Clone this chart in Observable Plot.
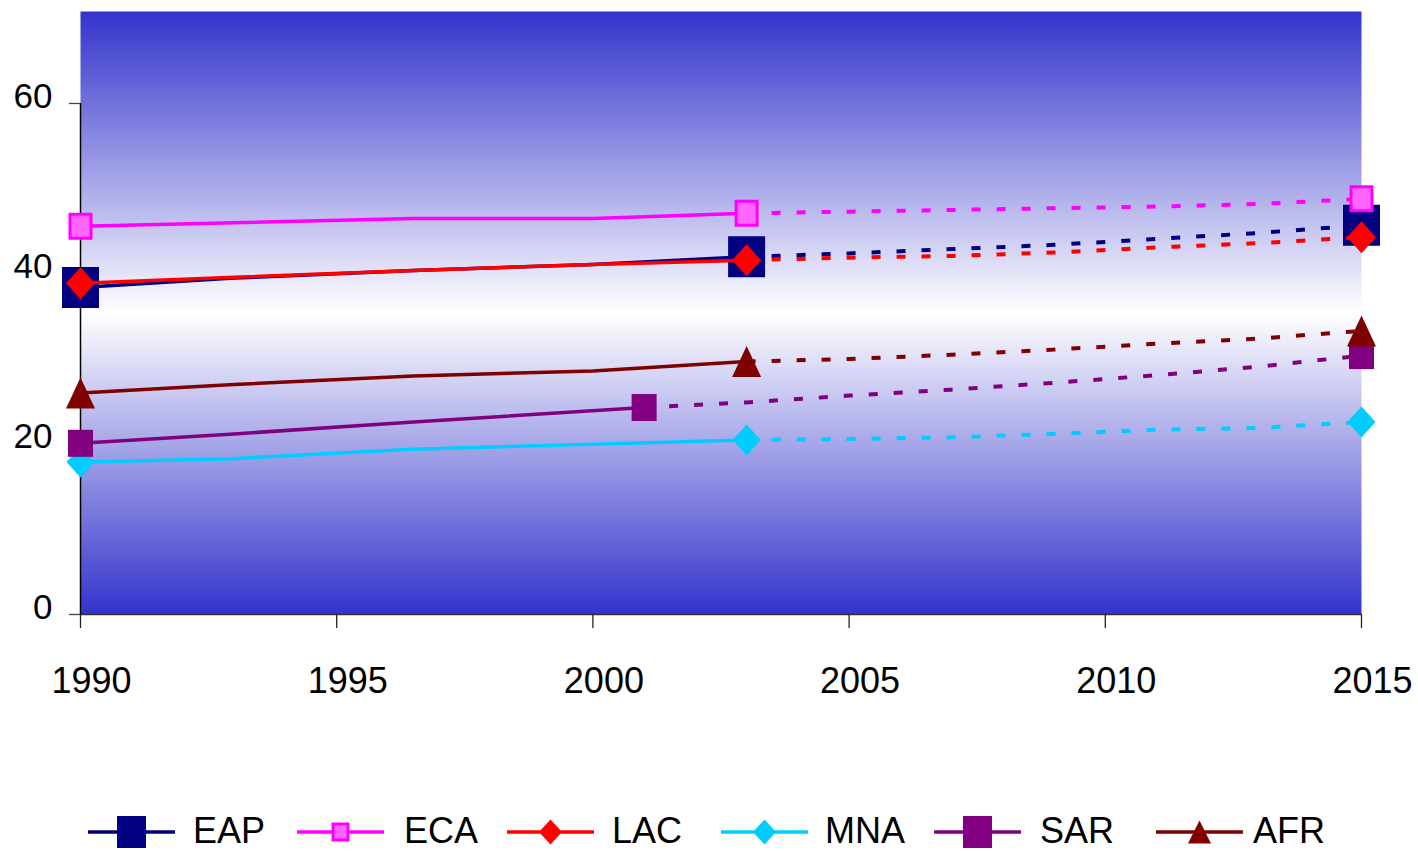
<!DOCTYPE html>
<html><head><meta charset="utf-8">
<script src="https://cdn.jsdelivr.net/npm/d3@7"></script>
<script src="https://cdn.jsdelivr.net/npm/@observablehq/plot@0.6"></script>
<style>
html,body{margin:0;padding:0;background:#fff;overflow:hidden}
#chart{width:1418px;height:851px;font-family:"Liberation Sans",Arial,sans-serif}
#chart svg{display:block}
</style></head><body><div id="chart"></div>
<script>
// ---- data ----
const series = ["EAP", "ECA", "LAC", "MNA", "SAR", "AFR"];
const lineColors = ["#000080", "#FF00FF", "#FF0000", "#00CCFF", "#800080", "#800000"];
const markerFills = ["#000080", "#FF66FF", "#FF0000", "#00CCFF", "#800080", "#800000"];

const histYears = [1990, 1993, 1996.5, 2000, 2003];
const histEAP = [38.4, 39.5, 40.4, 41.1, 42.0];
const histECA = [45.6, 46.0, 46.5, 46.5, 47.1];
const histLAC = [38.9, 39.6, 40.4, 41.1, 41.6];
const histMNA = [17.9, 18.3, 19.4, 20.0, 20.5];
const histAFR = [26.0, 27.0, 28.0, 28.6, 29.7];
const sarHistYears = [1990, 1993, 1996.5, 2001];
const histSAR = [20.1, 21.2, 22.6, 24.3];

const projYears = [2003, 2005, 2007, 2009, 2011, 2013, 2015];
const projEAP = [42.0, 42.4, 42.9, 43.4, 44.1, 44.8, 45.7];
const projECA = [47.1, 47.3, 47.5, 47.7, 47.9, 48.2, 48.8];
const projLAC = [41.6, 41.9, 42.1, 42.5, 43.1, 43.6, 44.3];
const projMNA = [20.5, 20.6, 20.8, 21.2, 21.7, 21.9, 22.6];
const projAFR = [29.7, 30.0, 30.5, 31.1, 31.8, 32.4, 33.3];
const sarProjYears = [2001, 2003, 2005, 2007, 2009, 2011, 2013, 2015];
const projSAR = [24.3, 24.9, 25.7, 26.4, 27.2, 28.1, 29.1, 30.4];

const xTicks = [1990, 1995, 2000, 2005, 2010, 2015];
const yTicks = [0, 20, 40, 60];
const yMax = 70.8;

// ---- tables built from the arrays ----
const hist = {
  EAP: [histYears, histEAP], ECA: [histYears, histECA], LAC: [histYears, histLAC],
  MNA: [histYears, histMNA], SAR: [sarHistYears, histSAR], AFR: [histYears, histAFR]
};
const proj = {
  EAP: [projYears, projEAP], ECA: [projYears, projECA], LAC: [projYears, projLAC],
  MNA: [projYears, projMNA], SAR: [sarProjYears, projSAR], AFR: [projYears, projAFR]
};
const toRows = ([xs, ys]) => xs.map((x, i) => ({x, y: ys[i]}));

// ---- marker symbols (w x h boxes) ----
const rectSym = (w, h) => ({draw(c) { c.moveTo(-w/2, -h/2); c.lineTo(w/2, -h/2); c.lineTo(w/2, h/2); c.lineTo(-w/2, h/2); c.closePath(); }});
const diamondSym = (w, h) => ({draw(c) { c.moveTo(0, -h/2); c.lineTo(w/2, 0); c.lineTo(0, h/2); c.lineTo(-w/2, 0); c.closePath(); }});
const triSym = (w, h) => ({draw(c) { c.moveTo(0, -h/2); c.lineTo(w/2, h/2); c.lineTo(-w/2, h/2); c.closePath(); }});

const chartMarkers = {
  EAP: {sym: rectSym(37, 41), sw: 0},
  ECA: {sym: rectSym(21, 24), sw: 3},
  LAC: {sym: diamondSym(29, 32), sw: 0},
  MNA: {sym: diamondSym(28, 31), sw: 0},
  SAR: {sym: rectSym(25, 27), sw: 0},
  AFR: {sym: triSym(29, 31), sw: 0}
};
const legendMarkers = {
  EAP: {sym: rectSym(29, 32), sw: 0},
  ECA: {sym: rectSym(15, 16), sw: 3},
  LAC: {sym: diamondSym(23, 25), sw: 0},
  MNA: {sym: diamondSym(23, 25), sw: 0},
  SAR: {sym: rectSym(29, 32), sw: 0},
  AFR: {sym: triSym(23, 23), sw: 0}
};

const seriesMarks = series.flatMap((s, i) => {
  const h = toRows(hist[s]);
  const p = toRows(proj[s]);
  const pts = [h[0], h[h.length - 1], p[p.length - 1]];
  const m = chartMarkers[s];
  return [
    Plot.line(h, {x: "x", y: "y", stroke: lineColors[i], strokeWidth: 3.5, strokeLinejoin: "round", strokeLinecap: "butt"}),
    Plot.line(p, {x: "x", y: "y", stroke: lineColors[i], strokeWidth: 4, strokeDasharray: "9,16", strokeLinecap: "butt"}),
    Plot.dot(pts, {x: "x", y: "y", symbol: m.sym, r: 10, fill: markerFills[i],
      stroke: m.sw ? lineColors[i] : "none", strokeWidth: m.sw})
  ];
});

const W = 1418, H = 790;
const chart = Plot.plot({
  width: W, height: H,
  marginLeft: 80, marginRight: 57, marginTop: 11, marginBottom: H - 614,
  style: {fontFamily: '"Liberation Sans", Arial, sans-serif', color: "#000", background: "#fff", overflow: "visible"},
  x: {domain: [xTicks[0], xTicks[xTicks.length - 1]]},
  y: {domain: [0, yMax]},
  marks: [
    Plot.frame({fill: "url(#bgGrad)", stroke: "none"}),
    Plot.ruleY([yTicks[0]], {stroke: "#333", strokeWidth: 1.5}),
    Plot.ruleX([xTicks[0]], {y1: yTicks[0], y2: yTicks[yTicks.length - 1], stroke: "#000", strokeWidth: 1.5}),
    // y ticks
    Plot.axisY(yTicks, {tickSize: 11, tickFormat: () => "", label: null, stroke: "#444", strokeWidth: 1.3}),
    // y labels (slightly above their ticks)
    Plot.axisY(yTicks, {tickSize: 0, tickPadding: 28, fontSize: 35, dy: -7, fill: "#000", label: null, stroke: "none"}),
    // x ticks
    Plot.axisX(xTicks, {tickSize: 14, tickFormat: () => "", label: null, stroke: "#222", strokeWidth: 1.3}),
    // x labels (slightly right of their ticks)
    Plot.axisX(xTicks, {tickSize: 0, tickPadding: 53, fontSize: 36, dx: 11, fill: "#000", label: null, stroke: "none", tickFormat: d => String(d)}),
    ...seriesMarks
  ]
});

// gradient for the plot area background
const svgSel = d3.select(chart);
const grad = svgSel.insert("defs", ":first-child").append("linearGradient")
  .attr("id", "bgGrad").attr("x1", 0).attr("y1", 0).attr("x2", 0).attr("y2", 1);
grad.append("stop").attr("offset", "0%").attr("stop-color", "#3333CC");
grad.append("stop").attr("offset", "50%").attr("stop-color", "#FFFFFF");
grad.append("stop").attr("offset", "100%").attr("stop-color", "#3333CC");

document.getElementById("chart").appendChild(chart);

// ---- legend below the plot ----
const legendLineX = [88, 297, 507, 721, 934, 1156];
const legendTextX = [193, 404, 612, 825, 1040, 1253];
const leg = d3.create("svg").attr("width", W).attr("height", 851 - H)
  .style("font-family", '"Liberation Sans", Arial, sans-serif');
series.forEach((s, i) => {
  const g = leg.append("g").attr("transform", `translate(${legendLineX[i]},42)`);
  g.append("line").attr("x1", 0).attr("x2", 87).attr("y1", 0).attr("y2", 0)
    .attr("stroke", lineColors[i]).attr("stroke-width", 3.5);
  const m = legendMarkers[s];
  const path = d3.path(); m.sym.draw(path);
  g.append("path").attr("d", path.toString()).attr("transform", "translate(43.5,0)")
    .attr("fill", markerFills[i]).attr("stroke", m.sw ? lineColors[i] : "none").attr("stroke-width", m.sw);
  leg.append("text").attr("x", legendTextX[i]).attr("y", 53).attr("font-size", 36).attr("fill", "#000").text(s);
});
document.getElementById("chart").appendChild(leg.node());
</script>
</body></html>
